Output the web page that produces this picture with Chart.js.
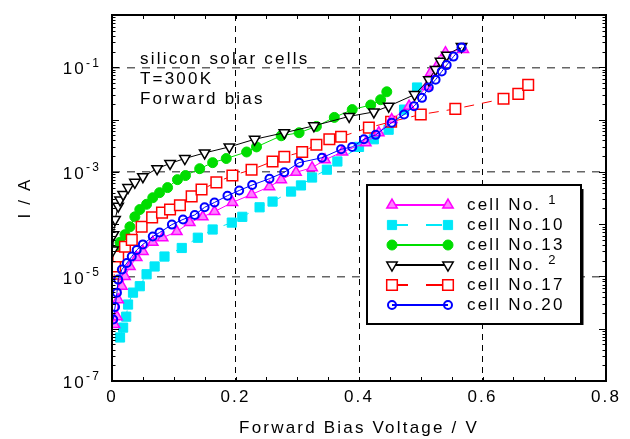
<!DOCTYPE html>
<html>
<head>
<meta charset="utf-8">
<script src="https://cdn.jsdelivr.net/npm/chart.js@4/dist/chart.umd.min.js"></script>
<style>
  body { margin: 0; background: #fff; }
  canvas { display: block; }
</style>
</head>
<body>
<canvas id="chart" width="630" height="439"></canvas>
<script>
// cell No.1
const voltsCell1 = [0.004, 0.008, 0.010, 0.016, 0.021, 0.029, 0.040, 0.050, 0.066, 0.082, 0.105, 0.126, 0.147, 0.166, 0.195, 0.226, 0.255, 0.274, 0.298, 0.324, 0.345, 0.373, 0.411, 0.432, 0.453, 0.481, 0.510, 0.516, 0.529, 0.540, 0.569];
const ampsCell1 = [1.2e-6, 1.7e-6, 3.6e-6, 6.5e-6, 1.0e-5, 1.55e-5, 2.3e-5, 3.0e-5, 4.5e-5, 5.5e-5, 7.2e-5, 1.07e-4, 1.38e-4, 1.74e-4, 2.6e-4, 3.7e-4, 5.2e-4, 7.1e-4, 9.8e-4, 1.2e-3, 1.7e-3, 2.4e-3, 3.6e-3, 5.6e-3, 1.0e-2, 1.8e-2, 4.3e-2, 7.9e-2, 0.12, 0.19, 0.22];
// cell No.10
const voltsCell10 = [0.013, 0.018, 0.023, 0.026, 0.034, 0.045, 0.056, 0.069, 0.085, 0.113, 0.139, 0.163, 0.194, 0.211, 0.239, 0.260, 0.290, 0.306, 0.324, 0.348, 0.365, 0.400, 0.424, 0.448, 0.473, 0.494];
const ampsCell10 = [6.8e-7, 1.05e-6, 1.7e-6, 2.9e-6, 4.9e-6, 6.5e-6, 1.1e-5, 1.55e-5, 2.4e-5, 3.5e-5, 5.5e-5, 7.9e-5, 1.07e-4, 1.38e-4, 2.1e-4, 2.7e-4, 4.2e-4, 5.5e-4, 7.8e-4, 1.1e-3, 1.58e-3, 3.0e-3, 4.2e-3, 6.4e-3, 1.55e-2, 4.1e-2];
// cell No.13
const voltsCell13 = [0.004, 0.008, 0.013, 0.021, 0.029, 0.037, 0.045, 0.056, 0.066, 0.077, 0.090, 0.106, 0.119, 0.142, 0.163, 0.185, 0.218, 0.234, 0.274, 0.303, 0.331, 0.360, 0.389, 0.419, 0.435, 0.445];
const ampsCell13 = [2.2e-5, 3.2e-5, 4.5e-5, 6.3e-5, 8.9e-5, 1.38e-4, 1.9e-4, 2.4e-4, 3.2e-4, 4.0e-4, 5.0e-4, 7.1e-4, 8.5e-4, 1.15e-3, 1.5e-3, 1.8e-3, 2.4e-3, 3.0e-3, 4.9e-3, 5.6e-3, 7.4e-3, 1.1e-2, 1.55e-2, 1.9e-2, 2.4e-2, 3.4e-2];
// cell No.2
const voltsCell2 = [0.0016, 0.0024, 0.005, 0.010, 0.013, 0.018, 0.026, 0.037, 0.050, 0.073, 0.094, 0.118, 0.150, 0.190, 0.231, 0.279, 0.327, 0.384, 0.424, 0.448, 0.490, 0.513, 0.524, 0.532, 0.542, 0.566];
const ampsCell2 = [3.2e-5, 6.3e-5, 1.23e-4, 2.2e-4, 2.9e-4, 3.7e-4, 5.0e-4, 6.3e-4, 8.1e-4, 1.15e-3, 1.45e-3, 1.8e-3, 2.3e-3, 3.0e-3, 4.2e-3, 5.6e-3, 7.6e-3, 1.15e-2, 1.4e-2, 1.8e-2, 3.0e-2, 5.8e-2, 9.1e-2, 0.13, 0.17, 0.25];
// cell No.17
const voltsCell17 = [0.002, 0.005, 0.010, 0.021, 0.032, 0.048, 0.065, 0.081, 0.094, 0.110, 0.129, 0.145, 0.169, 0.195, 0.226, 0.260, 0.279, 0.308, 0.331, 0.352, 0.371, 0.416, 0.452, 0.500, 0.556, 0.634, 0.658, 0.674];
const ampsCell17 = [7.1e-6, 1.55e-5, 2.4e-5, 3.7e-5, 5.0e-5, 8.9e-5, 1.35e-4, 1.66e-4, 1.9e-4, 2.3e-4, 3.4e-4, 4.6e-4, 6.3e-4, 8.5e-4, 1.1e-3, 1.58e-3, 1.95e-3, 2.4e-3, 3.3e-3, 4.2e-3, 4.7e-3, 7.0e-3, 9.1e-3, 1.25e-2, 1.6e-2, 2.5e-2, 3.1e-2, 4.6e-2];
// cell No.20
const voltsCell20 = [0.002, 0.005, 0.008, 0.010, 0.016, 0.024, 0.032, 0.040, 0.050, 0.066, 0.077, 0.097, 0.115, 0.134, 0.150, 0.166, 0.187, 0.206, 0.227, 0.255, 0.279, 0.303, 0.340, 0.371, 0.389, 0.408, 0.427, 0.453, 0.473, 0.489, 0.502, 0.513, 0.524, 0.534, 0.542, 0.553, 0.566];
const ampsCell20 = [1.5e-6, 2.6e-6, 4.9e-6, 8.7e-6, 1.35e-5, 1.8e-5, 2.4e-5, 3.2e-5, 4.1e-5, 5.8e-5, 6.9e-5, 9.8e-5, 1.23e-4, 1.5e-4, 2.1e-4, 2.6e-4, 3.5e-4, 4.4e-4, 5.6e-4, 7.4e-4, 9.8e-4, 1.5e-3, 1.86e-3, 2.7e-3, 3.0e-3, 4.2e-3, 5.1e-3, 8.7e-3, 1.25e-2, 1.8e-2, 2.6e-2, 4.1e-2, 5.8e-2, 8.3e-2, 0.11, 0.16, 0.24];

const legendNames = ['cell No.', 'cell No.10', 'cell No.13', 'cell No.', 'cell No.17', 'cell No.20'];
const legendSups = ['1', '', '', '2', '', ''];
const xTickLabels = ['0', '0.2', '0.4', '0.6', '0.8'];
const yTickValues = [1e-7, 1e-5, 1e-3, 1e-1];
const yTickExponents = ['-7', '-5', '-3', '-1'];
const noteLines = ['silicon solar cells', 'T=300K', 'Forward bias'];

const FONT = "'Liberation Sans', Arial, sans-serif";
const SPACING = '2.2px';

function pairs(xs, ys) {
    return xs.map((x, i) => ({ x: x, y: ys[i] }));
}

const datasets = [
    { label: 'cell No.1', data: pairs(voltsCell1, ampsCell1), borderColor: '#ff00ff', backgroundColor: '#ff80ff',
      pointStyle: 'triangle', pointRadius: 6, pointBorderWidth: 1.5, borderWidth: 1, order: 2 },
    { label: 'cell No.10', data: pairs(voltsCell10, ampsCell10), borderColor: '#00e8f8', backgroundColor: '#00e8f8',
      pointStyle: 'rect', pointRadius: 6.5, pointBorderWidth: 1, borderWidth: 1, borderDash: [10, 8], order: 5 },
    { label: 'cell No.13', data: pairs(voltsCell13, ampsCell13), borderColor: '#00dd00', backgroundColor: '#00dd00',
      pointStyle: 'circle', pointRadius: 5, pointBorderWidth: 1, borderWidth: 1, order: 4 },
    { label: 'cell No.2', data: pairs(voltsCell2, ampsCell2), borderColor: '#000000', backgroundColor: '#ffffff',
      pointStyle: 'triangle', pointRotation: 180, pointRadius: 6, pointBorderWidth: 1.5, borderWidth: 1, order: 1 },
    { label: 'cell No.17', data: pairs(voltsCell17, ampsCell17), borderColor: '#ff0000', backgroundColor: '#ffffff',
      pointStyle: 'rect', pointRadius: 7.5, pointBorderWidth: 1.5, borderWidth: 1, borderDash: [10, 8], order: 3 },
    { label: 'cell No.20', data: pairs(voltsCell20, ampsCell20), borderColor: '#0000ff', backgroundColor: 'rgba(255,255,255,0)',
      pointStyle: 'circle', pointRadius: 4, pointBorderWidth: 2, borderWidth: 1, order: 0 }
];
datasets.forEach(d => { d.showLine = true; d.fill = false; });

function isMajorX(v) {
    return [0.2, 0.4, 0.6].some(m => Math.abs(m - v) < 1e-9);
}
function isGridY(v) {
    return [1e-1, 1e-3, 1e-5].some(m => Math.abs(m - v) / m < 1e-6);
}

const decorPlugin = {
    id: 'decor',
    beforeDraw(chart) {
        chart.ctx.letterSpacing = SPACING;
    },
    afterDraw(chart) {
        const ctx = chart.ctx;
        const a = chart.chartArea;
        const xs = chart.scales.x, ys = chart.scales.y;
        ctx.save();
        ctx.letterSpacing = SPACING;

        // frame
        ctx.strokeStyle = '#000';
        ctx.lineWidth = 2;
        ctx.setLineDash([]);
        ctx.strokeRect(a.left, a.top, a.right - a.left, a.bottom - a.top);

        // inward ticks
        ctx.lineWidth = 1;
        ctx.beginPath();
        for (let i = 0; i <= 16; i++) {
            const px = Math.round(xs.getPixelForValue(i * 0.05)) + 0.5;
            ctx.moveTo(px, a.bottom); ctx.lineTo(px, a.bottom - 4);
            ctx.moveTo(px, a.top); ctx.lineTo(px, a.top + 4);
        }
        for (let d = -7; d <= 0; d++) {
            for (let m = 1; m <= 9; m++) {
                const v = m * Math.pow(10, d);
                if (v > 1.0000001) break;
                const py = Math.round(ys.getPixelForValue(v)) + 0.5;
                const len = m === 1 ? 7 : 3.5;
                ctx.moveTo(a.left, py); ctx.lineTo(a.left + len, py);
                ctx.moveTo(a.right, py); ctx.lineTo(a.right - len, py);
            }
        }
        ctx.stroke();

        // y tick labels with exponents
        ctx.fillStyle = '#000';
        yTickValues.forEach((v, i) => {
            const py = ys.getPixelForValue(v);
            ctx.font = '17px ' + FONT;
            ctx.textAlign = 'right';
            ctx.textBaseline = 'middle';
            ctx.fillText('10', 86, py + 2.5);
            ctx.font = '12px ' + FONT;
            ctx.textAlign = 'left';
            ctx.fillText(yTickExponents[i], 86, py - 4);
        });

        // note text
        ctx.font = '17px ' + FONT;
        ctx.textAlign = 'left';
        ctx.textBaseline = 'middle';
        noteLines.forEach((t, i) => ctx.fillText(t, 140, 59 + i * 20));

        // legend box
        const bx = 367, by = 185, bw = 214, bh = 139;
        ctx.fillStyle = '#fff';
        ctx.fillRect(bx, by, bw, bh);
        ctx.strokeStyle = '#000';
        ctx.lineWidth = 2;
        ctx.strokeRect(bx, by, bw, bh);
        ctx.lineWidth = 3;
        ctx.beginPath();
        ctx.moveTo(bx + bw + 1, by + 4); ctx.lineTo(bx + bw + 1, by + bh + 1);
        ctx.stroke();

        chart.data.datasets.forEach((ds, i) => {
            const y = 205 + i * 20;
            ctx.strokeStyle = ds.borderColor;
            ctx.lineWidth = 2;
            ctx.setLineDash(ds.borderDash ? [16, 18] : []);
            ctx.beginPath();
            ctx.moveTo(392, y); ctx.lineTo(448, y);
            ctx.stroke();
            ctx.setLineDash([]);
            ctx.fillStyle = ds.backgroundColor;
            ctx.strokeStyle = ds.borderColor;
            ctx.lineWidth = ds.pointBorderWidth;
            const opts = { pointStyle: ds.pointStyle, rotation: ds.pointRotation || 0, radius: ds.pointRadius, borderWidth: ds.pointBorderWidth };
            Chart.helpers.drawPoint(ctx, opts, 392, y);
            Chart.helpers.drawPoint(ctx, opts, 448, y);

            ctx.fillStyle = '#000';
            ctx.font = '17px ' + FONT;
            ctx.textAlign = 'left';
            ctx.textBaseline = 'middle';
            ctx.fillText(legendNames[i], 467, y);
            if (legendSups[i]) {
                const w = ctx.measureText(legendNames[i] + ' ').width;
                ctx.font = '13px ' + FONT;
                ctx.fillText(legendSups[i], 467 + w, y - 5);
            }
        });
        ctx.restore();
    }
};

new Chart(document.getElementById('chart'), {
    type: 'scatter',
    data: { datasets: datasets },
    options: {
        responsive: false,
        animation: false,
        layout: { padding: { top: 15, right: 24, left: 0, bottom: 0 } },
        plugins: { legend: { display: false }, tooltip: { enabled: false } },
        scales: {
            x: {
                type: 'linear',
                min: 0,
                max: 0.8,
                afterFit: s => { s.height = 58; },
                ticks: {
                    stepSize: 0.05,
                    autoSkip: false,
                    maxRotation: 0,
                    padding: 6,
                    color: '#000',
                    font: { family: FONT, size: 17 },
                    callback: v => {
                        const k = Math.round(v / 0.2);
                        return Math.abs(v - k * 0.2) < 1e-9 ? xTickLabels[k] : '';
                    }
                },
                grid: {
                    drawTicks: false,
                    lineWidth: 1,
                    color: c => (c.tick && isMajorX(c.tick.value)) ? '#000' : 'rgba(0,0,0,0)'
                },
                border: { display: false, dash: [6, 5] },
                title: {
                    display: true,
                    text: 'Forward Bias Voltage / V',
                    color: '#000',
                    font: { family: FONT, size: 17 },
                    padding: { top: 0, bottom: 0 }
                }
            },
            y: {
                type: 'logarithmic',
                min: 1e-7,
                max: 1,
                afterFit: s => { s.width = 112; },
                afterBuildTicks: s => { s.ticks = [1e-7, 1e-6, 1e-5, 1e-4, 1e-3, 1e-2, 1e-1, 1].map(v => ({ value: v })); },
                ticks: { display: false },
                grid: {
                    drawTicks: false,
                    lineWidth: 1.5,
                    color: c => (c.tick && isGridY(c.tick.value)) ? '#666' : 'rgba(0,0,0,0)'
                },
                border: { display: false, dash: [8, 7] },
                title: {
                    display: true,
                    text: 'I / A',
                    color: '#000',
                    font: { family: FONT, size: 17 },
                    padding: { top: 15, bottom: 0 }
                }
            }
        }
    },
    plugins: [decorPlugin]
});
</script>
</body>
</html>
